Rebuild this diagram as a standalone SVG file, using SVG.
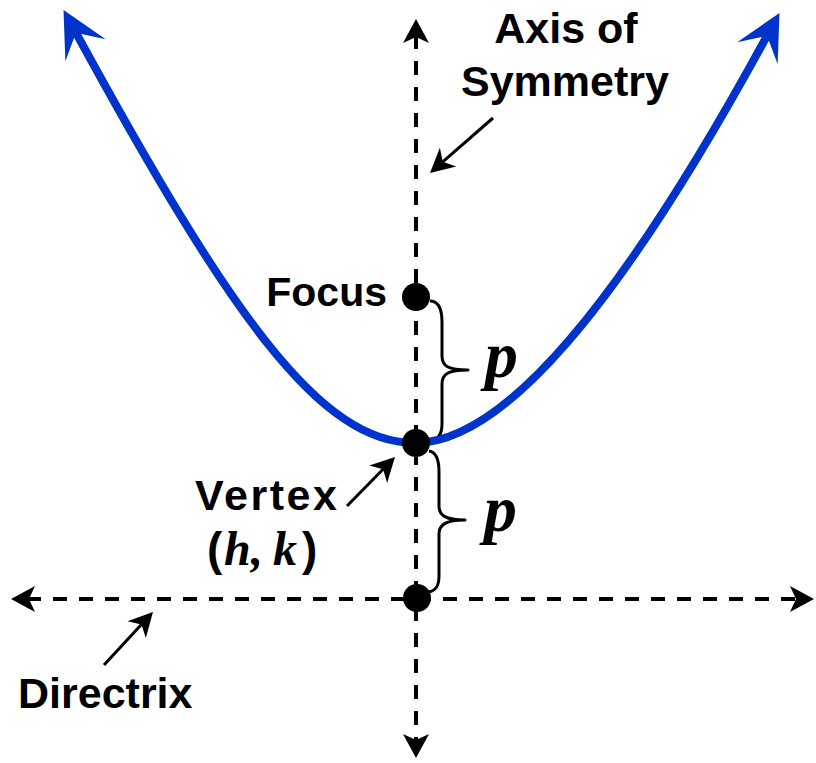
<svg xmlns="http://www.w3.org/2000/svg" width="816" height="763" viewBox="0 0 816 763">
<defs>
<style>
.dash{fill:none;stroke:#000;stroke-width:4;stroke-dasharray:14 12}
.curve{fill:none;stroke:#0033cc;stroke-width:8}
.ptr{fill:none;stroke:#000;stroke-width:3}
.brace{fill:none;stroke:#000;stroke-width:3;stroke-linejoin:round}
.dot{fill:#000}
.lbl{font-family:"Liberation Sans",Arial,sans-serif;font-weight:bold;fill:#000}
.var{font-family:"Liberation Serif","Times New Roman",serif;font-weight:bold;font-style:italic;fill:#000}
</style>
<marker id="axhead" markerUnits="userSpaceOnUse" markerWidth="30" markerHeight="30" viewBox="0 -15 30 30" refX="8" refY="0" orient="auto-start-reverse" overflow="visible">
<path d="M24,0 L0,-13 L6,0 L0,13 Z" fill="#000"/>
</marker>
<marker id="bluehead" markerUnits="userSpaceOnUse" markerWidth="50" markerHeight="50" viewBox="0 -25 50 50" refX="22" refY="0" orient="auto" overflow="visible">
<path d="M46,0 L0,-23 L20,0 L0,23 Z" fill="#0033cc"/>
</marker>
<marker id="ptrhead" markerUnits="userSpaceOnUse" markerWidth="30" markerHeight="30" viewBox="0 -15 30 30" refX="9" refY="0" orient="auto" overflow="visible">
<path d="M24,0 L0,-12.5 L7,0 L0,12.5 Z" fill="#000"/>
</marker>
</defs>
<rect width="816" height="763" fill="#fff"/>

<g id="connectors">
<path id="axis-line" class="dash" d="M416,35 L416,742" marker-start="url(#axhead)" marker-end="url(#axhead)"/>
<path id="directrix-line" class="dash" d="M27,599 L798,599" marker-start="url(#axhead)" marker-end="url(#axhead)"/>
<path id="ptr-axis" class="ptr" d="M493,118 L441.3,163.1" marker-end="url(#ptrhead)"/>
<path id="ptr-vertex" class="ptr" d="M347,506 L384.5,467.7" marker-end="url(#ptrhead)"/>
<path id="ptr-directrix" class="ptr" d="M104,665 L142.8,623" marker-end="url(#ptrhead)"/>
<path id="brace-upper" class="brace" d="M430,301 C439,301 442,310 442,322 L442,356 C442,366 448,370 468,370 C448,370 442,374 442,384 L442,424 C442,435 438,440 430,441"/>
<path id="brace-lower" class="brace" d="M429,451 C436,452 439,460 439,472 L439,506 C439,515 445,520 465,520 C445,520 439,525 439,534 L439,576 C439,586 436,591 428,592"/>
</g>

<g id="parabola">
<path class="curve" d="M415,443 C320,443 230,315 75,31" marker-end="url(#bluehead)"/>
<path class="curve" d="M415,443 C500,443 615,315 768,34" marker-end="url(#bluehead)"/>
</g>

<g id="focus">
<circle class="dot" cx="416" cy="297" r="14"/>
<text class="lbl" x="387" y="306" font-size="41" text-anchor="end">Focus</text>
</g>

<g id="vertex">
<circle class="dot" cx="416" cy="443" r="14"/>
<text class="lbl" x="195" y="510" font-size="43" textLength="142" lengthAdjust="spacing">Vertex</text>
<text y="565" font-size="48"><tspan class="lbl" x="207" font-size="46">(</tspan><tspan class="var" x="224">h</tspan><tspan class="var" x="251">,</tspan><tspan class="var" x="273">k</tspan><tspan class="lbl" x="302" font-size="46">)</tspan></text>
</g>

<g id="directrix-point">
<circle class="dot" cx="417" cy="598" r="14"/>
</g>

<g id="axis-label">
<text class="lbl" x="566" y="43" font-size="43" text-anchor="middle">Axis of</text>
<text class="lbl" x="565" y="96" font-size="43" text-anchor="middle">Symmetry</text>
</g>

<g id="directrix-label">
<text class="lbl" x="18" y="708" font-size="43">Directrix</text>
</g>

<g id="p-labels">
<text class="var" x="485" y="377" font-size="66">p</text>
<text class="var" x="484" y="531" font-size="66">p</text>
</g>
</svg>
